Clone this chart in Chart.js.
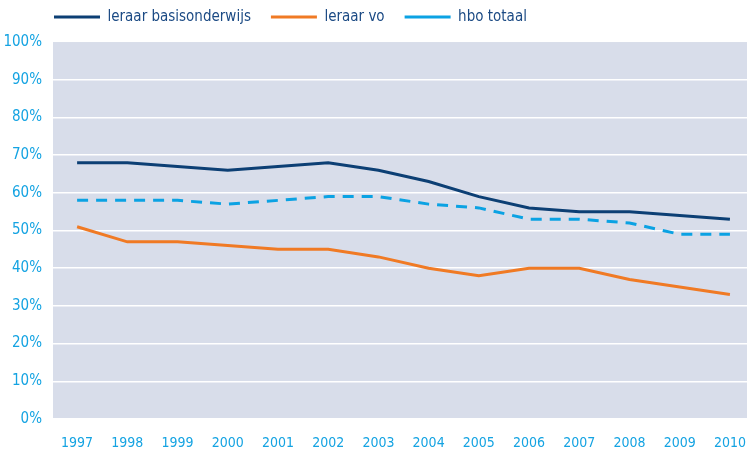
<!DOCTYPE html>
<html>
<head>
<meta charset="utf-8">
<script src="https://cdn.jsdelivr.net/npm/chart.js@4/dist/chart.umd.min.js"></script>
<style>
    html, body { margin: 0; padding: 0; background: #ffffff; }
    #wrap { width: 747px; height: 457px; }
</style>
</head>
<body>
<div id="wrap"><canvas id="chart" width="747" height="457"></canvas></div>
<script>
const years = [1997, 1998, 1999, 2000, 2001, 2002, 2003, 2004, 2005, 2006, 2007, 2008, 2009, 2010];
const basisonderwijs = [68, 68, 67, 66, 67, 68, 66, 63, 59, 56, 55, 55, 54, 53];
const leraarVo = [51, 47, 47, 46, 45, 45, 43, 40, 38, 40, 40, 37, 35, 33];
const hboTotaal = [58, 58, 58, 57, 58, 59, 59, 57, 56, 53, 53, 52, 49, 49];
const yTicks = [0, 10, 20, 30, 40, 50, 60, 70, 80, 90, 100];

const FONT = "'DejaVu Sans Condensed', 'DejaVu Sans', sans-serif";
const tickBlue = "#14a3e2";

const toPoints = vals => vals.map((v, i) => ({ x: years[i], y: v }));

// grey-blue plot background, from 0% up to the 100% line
const plotBg = {
    id: "plotBg",
    beforeDraw(chart) {
        const { ctx, chartArea: a, scales } = chart;
        const top = scales.y.getPixelForValue(100);
        ctx.save();
        ctx.fillStyle = "#d8ddea";
        ctx.fillRect(a.left, top, a.right - a.left, a.bottom - top);
        ctx.restore();
    }
};

// legend starts a bit further right than the layout allows
const legendShift = {
    id: "legendShift",
    afterLayout(chart) {
        chart.legend.left = 34;
    }
};

new Chart(document.getElementById("chart").getContext("2d"), {
    type: "line",
    data: {
        datasets: [{
            label: "leraar basisonderwijs",
            data: toPoints(basisonderwijs),
            borderColor: "#0c3f74",
            borderWidth: 3
        }, {
            label: "leraar vo",
            data: toPoints(leraarVo),
            borderColor: "#f07a24",
            borderWidth: 3
        }, {
            label: "hbo totaal",
            data: toPoints(hboTotaal),
            borderColor: "#0ba2e3",
            borderWidth: 3,
            borderDash: [11, 8]
        }]
    },
    options: {
        responsive: false,
        animation: false,
        layout: { padding: { top: -10.5, left: 0, right: 0, bottom: 0 } },
        elements: {
            point: { radius: 0 },
            line: { tension: 0 }
        },
        plugins: {
            legend: {
                position: "top",
                align: "start",
                labels: {
                    usePointStyle: true,
                    pointStyle: "line",
                    pointStyleWidth: 46,
                    padding: 20,
                    color: "#1b4a84",
                    font: { family: FONT, size: 15 }
                }
            },
            tooltip: { enabled: false }
        },
        scales: {
            x: {
                type: "linear",
                min: 1996.52,
                max: 2010.34,
                afterBuildTicks: s => { s.ticks = years.map(v => ({ value: v })); },
                afterFit: s => {
                    s.height = 38;
                    s.paddingLeft = 0;
                    s.paddingRight = 0;
                },
                grid: { display: false, drawTicks: false },
                border: { display: false },
                ticks: {
                    color: tickBlue,
                    padding: 16,
                    autoSkip: false,
                    maxRotation: 0,
                    font: { family: FONT, size: 14 },
                    callback: v => String(v)
                }
            },
            y: {
                min: 0,
                max: 102,
                afterBuildTicks: s => { s.ticks = yTicks.map(v => ({ value: v })); },
                afterFit: s => { s.width = 53; },
                grid: {
                    color: c => (c.tick && c.tick.value === 100) ? "rgba(0,0,0,0)" : "#ffffff",
                    lineWidth: 1.5,
                    drawTicks: false
                },
                border: { display: false },
                ticks: {
                    color: tickBlue,
                    padding: 11,
                    font: { family: FONT, size: 15 },
                    callback: v => v + "%"
                }
            }
        }
    },
    plugins: [plotBg, legendShift]
});
</script>
</body>
</html>
